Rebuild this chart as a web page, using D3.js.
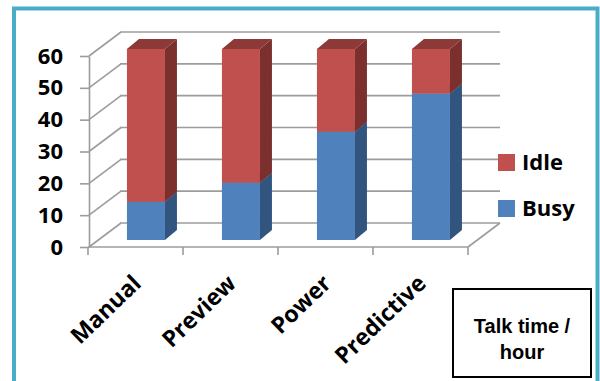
<!DOCTYPE html>
<html>
<head>
<meta charset="utf-8">
<script src="https://cdn.jsdelivr.net/npm/d3@7"></script>
<style>
body { margin: 0; background: #fff; }
svg { display: block; }
</style>
</head>
<body>
<svg id="chart" width="600" height="381"></svg>
<script>
// chart values
const categories = ["Manual", "Preview", "Power", "Predictive"];
const busy = [12, 18, 34, 46];
const idle = [48, 42, 26, 14];
const yTicks = [0, 10, 20, 30, 40, 50, 60];
const seriesNames = ["Idle", "Busy"];

const colors = {
	Busy: { front: "#4f81bd", side: "#31557f", top: "#3d6598" },
	Idle: { front: "#c0504d", side: "#7b302e", top: "#8c3a38" }
};

// depth of the floor / walls and of each bar
const wall = { dx: 32, dy: 24 };
const bar = { dx: 12, dy: 10, shiftY: 7 };

const svg = d3.select("#chart");

// outer frame
svg.append("rect")
	.attr("x", 14)
	.attr("y", 8.5)
	.attr("width", 583.5)
	.attr("height", 420)
	.attr("fill", "#fff")
	.attr("stroke", "#4aacc6")
	.attr("stroke-width", 4);

const y = d3.scaleLinear()
	.domain([0, 60])
	.range([247, 56]);

const x = d3.scaleBand()
	.domain(categories)
	.range([88, 468]);

const grid = svg.append("g").attr("stroke", "#9c9c9c").attr("stroke-width", 1.6).attr("fill", "none");

// back wall gridlines and side wall diagonals
yTicks.forEach(t => {
	grid.append("line")
		.attr("x1", 89).attr("y1", y(t))
		.attr("x2", 89 + wall.dx).attr("y2", y(t) - wall.dy);
	grid.append("line")
		.attr("x1", 88 + wall.dx).attr("y1", y(t) - wall.dy)
		.attr("x2", 468 + wall.dx).attr("y2", y(t) - wall.dy);
});

// floor
grid.append("line")
	.attr("x1", 88).attr("y1", y(0))
	.attr("x2", 468).attr("y2", y(0));
grid.append("line")
	.attr("x1", 468).attr("y1", y(0))
	.attr("x2", 468 + wall.dx).attr("y2", y(0) - wall.dy);

// category ticks
const catEdges = categories.map(c => x(c)).concat([x.range()[1]]);
grid.selectAll(".ctick")
	.data(catEdges)
	.enter()
	.append("line")
	.attr("x1", d => d).attr("x2", d => d)
	.attr("y1", y(0)).attr("y2", y(0) + 8);

// y axis
const yAxis = svg.append("g")
	.attr("transform", "translate(89,0)")
	.call(d3.axisLeft(y).tickValues(yTicks).tickSizeInner(9).tickSizeOuter(0).tickPadding(17));

yAxis.select(".domain").attr("stroke", "#9c9c9c").attr("stroke-width", 1.6);
yAxis.selectAll(".tick line").attr("stroke", "#9c9c9c").attr("stroke-width", 1.6);
yAxis.selectAll(".tick text")
	.attr("fill", "#000")
	.style("font-family", "'Open Sans', sans-serif")
	.style("font-weight", "bold")
	.style("font-size", "22px");

// stacked 3d bars
const rows = categories.map((c, i) => ({ cat: c, Busy: busy[i], Idle: idle[i] }));
const stacked = d3.stack().keys(["Busy", "Idle"])(rows);

const bw = x.bandwidth() * 0.4;
const bx = c => x(c) + x.bandwidth() * 0.41;
const by = v => y(v) - bar.shiftY;

const bars = svg.append("g");

stacked.forEach(layer => {
	const col = colors[layer.key];
	layer.forEach(d => {
		const x0 = bx(d.data.cat);
		const x1 = x0 + bw;
		const yt = by(d[1]);
		const yb = by(d[0]);
		const g = bars.append("g");
		g.append("rect")
			.attr("x", x0).attr("y", yt)
			.attr("width", bw).attr("height", yb - yt)
			.attr("fill", col.front);
		g.append("path")
			.attr("d", `M${x1},${yt}L${x1 + bar.dx},${yt - bar.dy}L${x1 + bar.dx},${yb - bar.dy}L${x1},${yb}Z`)
			.attr("fill", col.side);
		g.append("path")
			.attr("d", `M${x0},${yt}L${x1},${yt}L${x1 + bar.dx},${yt - bar.dy}L${x0 + bar.dx},${yt - bar.dy}Z`)
			.attr("fill", col.top);
	});
});

// category labels
svg.selectAll(".clabel")
	.data(categories)
	.enter()
	.append("text")
	.attr("transform", d => `translate(${x(d) + x.bandwidth() / 2 + 7},285) rotate(-44)`)
	.attr("text-anchor", "end")
	.style("font-family", "'Open Sans', sans-serif")
	.style("font-weight", "bold")
	.style("font-size", "23px")
	.text(d => d);

// legend
const legend = svg.append("g");
seriesNames.forEach((s, i) => {
	legend.append("rect")
		.attr("x", 498).attr("y", 154 + i * 46)
		.attr("width", 17).attr("height", 17)
		.attr("fill", colors[s].front);
	legend.append("text")
		.attr("x", 522).attr("y", 170 + i * 46)
		.style("font-family", "'Open Sans', sans-serif")
		.style("font-weight", "bold")
		.style("font-size", "22px")
		.text(s);
});

// note box
svg.append("rect")
	.attr("x", 453).attr("y", 289)
	.attr("width", 138).attr("height", 88)
	.attr("fill", "#fff")
	.attr("stroke", "#000")
	.attr("stroke-width", 2);

svg.append("text")
	.attr("x", 522).attr("y", 333)
	.attr("text-anchor", "middle")
	.style("font-family", "'Liberation Sans', Arial, sans-serif")
	.style("font-weight", "bold")
	.style("font-size", "20px")
	.text("Talk time /");

svg.append("text")
	.attr("x", 522).attr("y", 359)
	.attr("text-anchor", "middle")
	.style("font-family", "'Liberation Sans', Arial, sans-serif")
	.style("font-weight", "bold")
	.style("font-size", "20px")
	.text("hour");
</script>
</body>
</html>
